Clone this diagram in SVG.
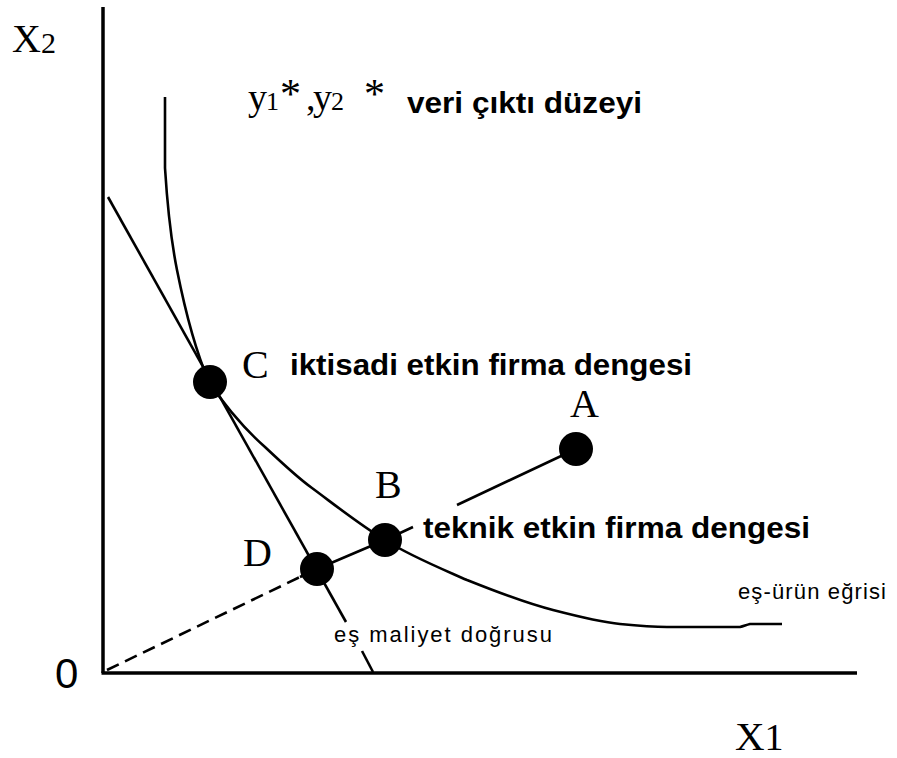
<svg xmlns="http://www.w3.org/2000/svg" width="897" height="758" viewBox="0 0 897 758">
<style>
.ln{fill:none;stroke:#000;stroke-width:2.6;stroke-linejoin:round;stroke-linecap:butt}
.ax{fill:none;stroke:#000;stroke-width:3.5}
.dot{fill:#000}
.serif{font-family:"Liberation Serif","Times New Roman",serif;fill:#000}
.bold{font-family:"Liberation Sans",Arial,sans-serif;font-weight:bold;font-size:30px;fill:#000}
.small{font-family:"Liberation Sans",Arial,sans-serif;font-size:22px;fill:#000}
</style>
<rect width="897" height="758" fill="#fff"/>
<g id="connectors">
<path id="axis-x2" class="ax" d="M103,7 L103,673"/>
<path id="axis-x1" class="ax" d="M101.5,673 L857,673"/>
<path id="isoquant" class="ln" d="M165,97 L165,168 C167,200 171,240 177,270 C184,305 193,345 209,382 C228,410 248,432 265,447 C283,464 298,478 312,488 C335,505 360,525 385,540 C410,556 440,568 467,580 C497,592 525,603 553,610 C580,617 600,622 620,624 C640,626 655,627 667,627 L740,627 C744,626 746,625 750,624 L782,624"/>
<path id="isocost-1" class="ln" d="M108,197 L346,622"/>
<path id="isocost-2" class="ln" d="M362,651 L373,672"/>
<path id="ray-dashed" class="ln" stroke-dasharray="13 7" d="M107,670 L300,577"/>
<path id="ray-solid" class="ln" d="M300,577 L317,569 L385,540 L413,527"/>
<path id="ray-upper" class="ln" d="M457,505 L576,449"/>
</g>
<g id="point-A"><circle class="dot" cx="576" cy="449" r="17"/><text class="serif" x="570" y="417" font-size="40">A</text></g>
<g id="point-B"><circle class="dot" cx="385" cy="540" r="17"/><text class="serif" x="375" y="498" font-size="40">B</text></g>
<g id="point-C"><circle class="dot" cx="210" cy="382" r="17"/><text class="serif" x="242" y="378" font-size="40">C</text></g>
<g id="point-D"><circle class="dot" cx="317" cy="569" r="17"/><text class="serif" x="243" y="566" font-size="40">D</text></g>
<g id="label-x2"><text class="serif" x="12" y="52" font-size="40">X<tspan font-size="30" y="53">2</tspan></text></g>
<g id="label-x1"><text class="serif" x="735" y="750" font-size="41">X<tspan font-size="38">1</tspan></text></g>
<g id="label-origin"><text x="55" y="688" font-family="'Liberation Sans',Arial,sans-serif" font-size="42">0</text></g>
<g id="label-output">
<text class="serif" y="110" font-size="38"><tspan x="248">y</tspan><tspan x="266" font-size="26">1</tspan><tspan x="280" y="108" font-size="42">*</tspan><tspan x="306" y="110">,</tspan><tspan x="313">y</tspan><tspan x="331" font-size="26">2</tspan><tspan x="364" y="108" font-size="42">*</tspan></text>
<text class="bold" x="407" y="113" textLength="235" lengthAdjust="spacingAndGlyphs">veri çıktı düzeyi</text>
</g>
<g id="label-C-text"><text class="bold" x="290" y="375" textLength="402" lengthAdjust="spacingAndGlyphs">iktisadi etkin firma dengesi</text></g>
<g id="label-B-text"><text class="bold" x="423" y="538" textLength="387" lengthAdjust="spacingAndGlyphs">teknik etkin firma dengesi</text></g>
<g id="label-isoquant"><text class="small" x="738" y="599" textLength="148" lengthAdjust="spacing">eş-ürün eğrisi</text></g>
<g id="label-isocost"><text class="small" x="334" y="642" textLength="218" lengthAdjust="spacing">eş maliyet doğrusu</text></g>
</svg>
